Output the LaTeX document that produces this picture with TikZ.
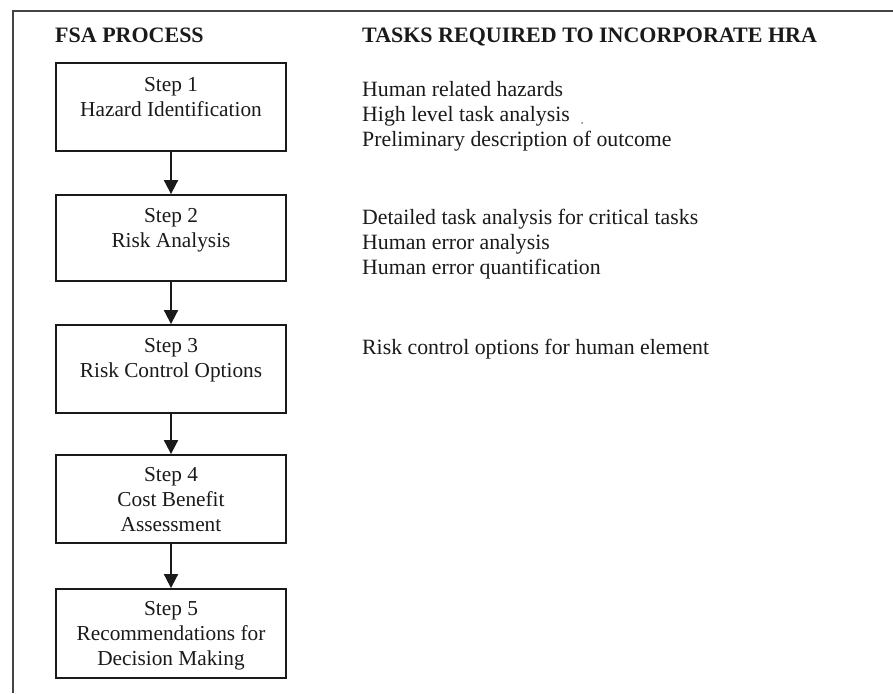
\documentclass[tikz,border=0pt]{standalone}
\usepackage{fontspec}
\setmainfont{Liberation Serif}
\usetikzlibrary{arrows.meta}
\definecolor{framecol}{HTML}{444444}
\definecolor{inkcol}{HTML}{1A1A1A}
\begin{document}
\begin{tikzpicture}[x=1pt,y=-1pt,
  stepbox/.style={draw=inkcol, line width=1.8pt, minimum width=230pt, inner sep=0pt},
  boxtext/.style={anchor=base, inner sep=0pt, text=inkcol, font=\fontsize{21.3}{25}\selectfont},
  tasktext/.style={anchor=base west, inner sep=0pt, text=inkcol, font=\fontsize{21.8}{25}\selectfont},
  hdr/.style={anchor=base west, inner sep=0pt, text=inkcol, font=\fontsize{22}{25}\selectfont\bfseries},
  arr/.style={draw=inkcol, line width=1.8pt, -{Triangle[width=14pt,length=14pt]}}]
\useasboundingbox (0,0) rectangle (893,693);
\fill[white] (0,0) rectangle (893,693);
% frame
\draw[framecol, line width=2pt] (13,693) -- (13,11) -- (893,11);
% headers
\node[hdr] (h1) at (55,42.5) {FSA PROCESS};
\node[hdr] (h2) at (362,42.5) {TASKS REQUIRED TO INCORPORATE HRA};
% boxes
\node[stepbox, minimum height=88pt] (s1) at (171,107) {};
\node[stepbox, minimum height=86pt] (s2) at (171,238) {};
\node[stepbox, minimum height=88pt] (s3) at (171,369) {};
\node[stepbox, minimum height=88pt] (s4) at (171,499) {};
\node[stepbox, minimum height=89pt] (s5) at (171,633.5) {};
% box texts
\node[boxtext] (t1a) at ([yshift=-29pt]s1.north) {Step 1};
\node[boxtext] (t1b) at ([yshift=-54pt]s1.north) {Hazard Identification};
\node[boxtext] (t2a) at ([yshift=-28pt]s2.north) {Step 2};
\node[boxtext] (t2b) at ([yshift=-53pt]s2.north) {Risk Analysis};
\node[boxtext] (t3a) at ([yshift=-28pt]s3.north) {Step 3};
\node[boxtext] (t3b) at ([yshift=-53pt]s3.north) {Risk Control Options};
\node[boxtext] (t4a) at ([yshift=-27pt]s4.north) {Step 4};
\node[boxtext] (t4b) at ([yshift=-52pt]s4.north) {Cost Benefit};
\node[boxtext] (t4c) at ([yshift=-77pt]s4.north) {Assessment};
\node[boxtext] (t5a) at ([yshift=-27pt]s5.north) {Step 5};
\node[boxtext] (t5b) at ([yshift=-52pt]s5.north) {Recommendations for};
\node[boxtext] (t5c) at ([yshift=-77pt]s5.north) {Decision Making};
% arrows
\draw[arr] (s1.south) -- (s2.north);
\draw[arr] (s2.south) -- (s3.north);
\draw[arr] (s3.south) -- (s4.north);
\draw[arr] (s4.south) -- (s5.north);
% tasks
\node[tasktext] (r1a) at (362,96.5) {Human related hazards};
\node[tasktext] (r1b) at (362,121) {High level task analysis};
\node[tasktext] (r1c) at (362,146) {Preliminary description of outcome};
\node[tasktext] (r2a) at (362,224) {Detailed task analysis for critical tasks};
\node[tasktext] (r2b) at (362,249) {Human error analysis};
\node[tasktext] (r2c) at (362,274) {Human error quantification};
\node[tasktext] (r3a) at (362,354) {Risk control options for human element};
\fill[gray] (582,123) circle (1pt);
\end{tikzpicture}
\end{document}
